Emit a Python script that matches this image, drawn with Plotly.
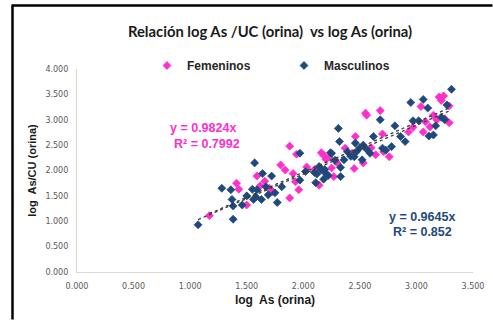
import plotly.graph_objects as go

# ---- data ----
fem_x = [1.17, 1.41, 1.43, 1.50, 1.59, 1.66, 1.73, 1.80, 1.84, 1.88, 1.88, 1.91, 1.93, 1.96, 1.94,
         2.03, 2.16, 2.18, 2.20, 2.23, 2.14, 2.27, 2.30, 2.37, 2.43, 2.46, 2.45, 2.53, 2.55, 2.56,
         2.64, 2.68, 2.70, 2.71, 2.76, 2.93, 2.97, 3.04, 3.06, 3.08, 3.12, 3.15, 3.20, 3.24, 3.22,
         3.29, 3.29, 3.25, 3.18, 2.60, 2.10, 2.25, 1.62, 1.70]
fem_y = [1.11, 1.75, 1.63, 1.32, 1.89, 1.79, 1.58, 2.11, 2.01, 2.48, 1.46, 1.94, 1.78, 1.62, 2.32,
         2.07, 2.35, 2.30, 2.22, 2.26, 1.71, 1.88, 2.15, 2.44, 2.34, 2.67, 2.04, 2.15, 3.13, 3.09,
         2.31, 3.18, 2.72, 2.37, 2.27, 2.76, 2.85, 3.26, 2.76, 2.96, 2.86, 3.09, 3.45, 3.47, 3.38,
         3.27, 2.94, 3.02, 3.00, 2.45, 2.02, 2.05, 1.70, 1.65]

mas_x = [1.07, 1.38, 1.28, 1.36, 1.37, 1.38, 1.46, 1.55, 1.57, 1.59, 1.56, 1.58, 1.64, 1.67, 1.69,
         1.72, 1.77, 1.75, 1.81, 1.97, 1.97, 2.02, 2.10, 2.12, 2.11, 2.16, 2.18, 2.20, 2.25, 2.14,
         2.19, 2.22, 2.31, 2.32, 2.24, 2.33, 2.33, 2.39, 2.46, 2.47, 2.52, 2.53, 2.59, 2.62, 2.68,
         2.70, 2.73, 2.78, 2.81, 2.86, 2.90, 2.95, 2.97, 3.02, 3.06, 3.10, 3.11, 3.15, 3.17, 3.22,
         3.25, 3.27, 3.31, 2.42, 2.56, 2.50, 2.36, 2.45, 2.28, 1.50, 1.63]
mas_y = [0.93, 1.04, 1.65, 1.62, 1.43, 1.30, 1.32, 1.63, 2.15, 1.62, 1.43, 1.48, 1.94, 1.68, 1.52,
         1.89, 1.37, 1.56, 1.68, 1.81, 2.34, 1.98, 1.96, 1.93, 1.76, 2.01, 1.83, 1.94, 2.34, 2.08,
         2.02, 1.90, 2.83, 2.57, 2.35, 2.06, 1.88, 2.37, 2.54, 2.37, 2.21, 2.50, 2.34, 2.67, 3.00,
         2.44, 2.40, 2.47, 2.88, 2.67, 2.57, 3.34, 2.98, 2.98, 3.40, 3.23, 2.68, 2.70, 2.88, 3.05,
         3.00, 3.29, 3.60, 2.28, 2.42, 2.45, 2.21, 2.27, 2.20, 1.50, 1.43]

fem_slope = 0.9824
mas_slope = 0.9645
fem_eq = ["y = 0.9824x", "R² = 0.7992"]
mas_eq = ["y = 0.9645x", "R² = 0.852"]

x_ticks = [0, 0.5, 1.0, 1.5, 2.0, 2.5, 3.0, 3.5]
y_ticks = [0, 0.5, 1.0, 1.5, 2.0, 2.5, 3.0, 3.5, 4.0]

PINK = "#FF2FCB"
BLUE = "#1F497D"
TREND = "#3A3A3A"
SANS = "Liberation Sans, Arial, sans-serif"

fig = go.Figure()

fig.add_trace(go.Scatter(x=fem_x, y=fem_y, mode="markers", name="Femeninos",
                         marker=dict(symbol="diamond", size=6.2, color=PINK,
                                     line=dict(color=PINK, width=0.7))))
fig.add_trace(go.Scatter(x=mas_x, y=mas_y, mode="markers", name="Masculinos",
                         marker=dict(symbol="diamond", size=6.2, color=BLUE,
                                     line=dict(color=BLUE, width=0.7))))

# trendlines (through origin), over each series' x range
for xs, slope in ((fem_x, fem_slope), (mas_x, mas_slope)):
    x0, x1 = min(xs), max(xs)
    fig.add_trace(go.Scatter(x=[x0, x1], y=[slope * x0, slope * x1], mode="lines",
                             showlegend=False, hoverinfo="skip",
                             line=dict(color=TREND, width=1.3, dash="dot")))

ann_font = dict(family=SANS, size=12.5)
annotations = [
    dict(x=1.113, y=2.84, text="<b>%s</b>" % fem_eq[0], font=dict(color=PINK, **ann_font)),
    dict(x=1.15, y=2.53, text="<b>%s</b>" % fem_eq[1], font=dict(color=PINK, **ann_font)),
    dict(x=3.05, y=1.09, text="<b>%s</b>" % mas_eq[0], font=dict(color=BLUE, **ann_font)),
    dict(x=3.05, y=0.78, text="<b>%s</b>" % mas_eq[1], font=dict(color=BLUE, **ann_font)),
]
for a in annotations:
    a.update(xref="x", yref="y", showarrow=False, xanchor="center", yanchor="middle")

W, H = 493, 320
L, R, T, B = 77, 20, 69, 48
pw, ph = W - L - R, H - T - B


def px(xp):
    return (xp - L) / pw


def py(yp):
    return (H - B - yp) / ph


frame = dict(color="#000000", width=2.5)
fig.update_layout(
    template="none",
    width=W, height=H,
    margin=dict(l=L, r=R, t=T, b=B, autoexpand=False),
    paper_bgcolor="white", plot_bgcolor="white",
    font=dict(family=SANS, color="#262626"),
    title=dict(text="<b>Relación log As /UC (orina)  vs log As (orina)</b>",
               x=270 / W, xanchor="center", y=1 - 32 / H, yanchor="middle",
               font=dict(family="Lato, Liberation Sans, sans-serif", size=14.8, color="#1A1A1A")),
    showlegend=True,
    legend=dict(orientation="h", x=px(147), y=py(51), xanchor="left", yanchor="top",
                entrywidth=92, entrywidthmode="pixels",
                font=dict(family=SANS, size=12, color="#262626", weight="bold"),
                bgcolor="rgba(0,0,0,0)", itemclick=False, traceorder="normal"),
    annotations=annotations,
    shapes=[
        dict(type="line", xref="paper", yref="paper",
             x0=px(12.5), x1=px(12.5), y0=py(319.5), y1=py(5.5), line=frame, layer="above"),
        dict(type="line", xref="paper", yref="paper",
             x0=px(11.5), x1=px(492.5), y0=py(5.5), y1=py(5.5), line=frame, layer="above"),
    ],
)

tick_font = dict(family="DejaVu Sans, Verdana, sans-serif", size=8, color="#595959")

fig.update_xaxes(range=[0, 3.5], tickvals=x_ticks, ticktext=["%.3f" % v for v in x_ticks],
                 tickfont=tick_font, showgrid=False, zeroline=False, automargin=False,
                 showline=True, linecolor="#D9D9D9", linewidth=1.2,
                 ticks="outside", ticklen=6, tickcolor="rgba(0,0,0,0)",
                 title=dict(text="<b>log  As (orina)</b>", standoff=5,
                            font=dict(family=SANS, size=12, color="#1A1A1A")))
fig.update_yaxes(range=[0, 4.0], tickvals=y_ticks, ticktext=["%.3f" % v for v in y_ticks],
                 tickfont=tick_font, showgrid=False, zeroline=False, automargin=False,
                 showline=True, linecolor="#D9D9D9", linewidth=1.2,
                 ticks="outside", ticklen=6, tickcolor="rgba(0,0,0,0)",
                 title=dict(text="<b>log  As/CU (orina)</b>", standoff=6,
                            font=dict(family=SANS, size=11, color="#1A1A1A")))

fig.write_html("out.html", config={"displayModeBar": False},
               post_script="document.body.style.margin='0';document.body.style.overflow='hidden';")
